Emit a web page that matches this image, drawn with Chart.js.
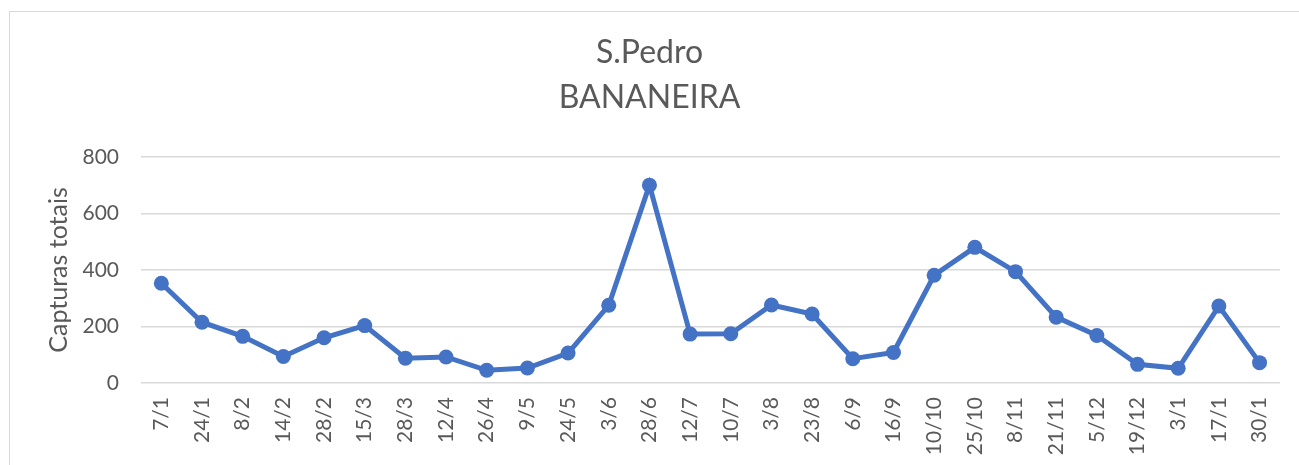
<!DOCTYPE html>
<html>
<head>
<meta charset="utf-8">
<script src="https://cdn.jsdelivr.net/npm/chart.js@4"></script>
<style>
  html, body { margin: 0; padding: 0; background: #fff; overflow: hidden; }
  #wrap { position: relative; width: 1299px; height: 465px; }
  #frame { position: absolute; left: 9px; top: 11px; width: 1300px; height: 470px; border: 1px solid #D9D9D9; box-sizing: border-box; }
  canvas { position: absolute; left: 0; top: 0; }
</style>
</head>
<body>
<div id="wrap">
  <div id="frame"></div>
  <canvas id="c" width="1299" height="465"></canvas>
</div>
<script>
const titleLines = ["S.Pedro", "BANANEIRA"];
const yAxisTitle = "Capturas totais";
const categories = ["7/1","24/1","8/2","14/2","28/2","15/3","28/3","12/4","26/4","9/5","24/5","3/6","28/6","12/7","10/7","3/8","23/8","6/9","16/9","10/10","25/10","8/11","21/11","5/12","19/12","3/1","17/1","30/1"];
const capturas = [353,215,165,94,160,203,88,92,45,53,106,275,700,173,174,276,244,86,108,381,480,394,233,168,66,52,272,72];
const yTicks = [0, 200, 400, 600, 800];

const FONT = "Lato, 'Open Sans', sans-serif";
const TXT = "#595959";
const PAD_L = 14, PAD_R = 14, PAD_B = 5;

new Chart(document.getElementById('c'), {
  type: 'line',
  data: {
    labels: categories,
    datasets: [{
      data: capturas,
      borderColor: '#4472C4',
      backgroundColor: '#4472C4',
      borderWidth: 5,
      pointRadius: 7.5,
      pointHoverRadius: 7.5,
      pointBorderWidth: 0,
      tension: 0,
      fill: false
    }]
  },
  options: {
    responsive: false,
    animation: false,
    events: [],
    layout: { padding: { left: PAD_L, right: PAD_R, top: 0, bottom: PAD_B } },
    plugins: {
      legend: { display: false },
      tooltip: { enabled: false },
      title: {
        display: true,
        text: titleLines,
        color: TXT,
        font: { family: FONT, size: 32, weight: 'normal', lineHeight: 1.42 },
        padding: { top: 30, bottom: 36 }
      }
    },
    scales: {
      x: {
        type: 'category',
        offset: true,
        grid: { display: false, drawTicks: false },
        border: { display: false },
        ticks: {
          color: TXT,
          font: { family: FONT, size: 21 },
          minRotation: 90,
          maxRotation: 90,
          autoSkip: false,
          padding: 14
        },
        afterFit: (s) => { s.height = 465 - 383 - PAD_B; }
      },
      y: {
        min: 0,
        max: 800,
        afterBuildTicks: (s) => { s.ticks = yTicks.map(v => ({ value: v })); },
        grid: { color: '#D9D9D9', lineWidth: 1.5, drawTicks: false },
        border: { display: false },
        ticks: {
          color: TXT,
          font: { family: FONT, size: 21 },
          padding: 22
        },
        title: {
          display: true,
          text: yAxisTitle,
          color: TXT,
          font: { family: FONT, size: 25, lineHeight: 1.2 },
          padding: { top: 30, bottom: 0 }
        },
        afterFit: (s) => { s.width = 141 - PAD_L; }
      }
    }
  }
});
</script>
</body>
</html>
